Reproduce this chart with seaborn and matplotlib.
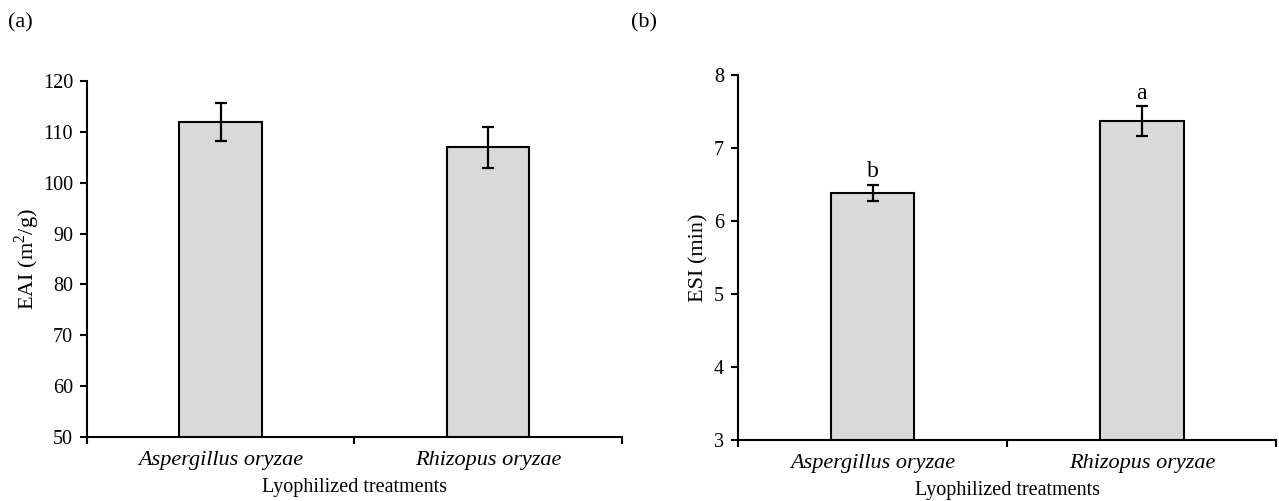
import matplotlib
matplotlib.use("Agg")
import matplotlib.pyplot as plt
import seaborn as sns
import pandas as pd

categories = ["Aspergillus oryzae", "Rhizopus oryzae"]
eai_values = [112.0, 107.0]
eai_errors = [3.8, 4.0]
esi_values = [6.39, 7.37]
esi_errors = [0.11, 0.21]
esi_letters = ["b", "a"]
eai_ticks = [50, 60, 70, 80, 90, 100, 110, 120]
esi_ticks = [3, 4, 5, 6, 7, 8]

sns.set_theme(style="white")
plt.rcParams["font.family"] = ["Liberation Serif", "DejaVu Serif"]
plt.rcParams["mathtext.fontset"] = "custom"
plt.rcParams["mathtext.rm"] = "Liberation Serif"
plt.rcParams["text.color"] = "black"
plt.rcParams["axes.labelcolor"] = "black"
plt.rcParams["xtick.color"] = "black"
plt.rcParams["ytick.color"] = "black"

fig = plt.figure(figsize=(12.79, 5.01), dpi=100)
ax1 = fig.add_axes([0.068, 0.128, 0.418, 0.710])
ax2 = fig.add_axes([0.577, 0.122, 0.421, 0.728])

def panel(ax, values, errors, ticks, ylabel, ylab_x, letters=None):
    df = pd.DataFrame({"cat": categories, "val": values})
    sns.barplot(data=df, x="cat", y="val", ax=ax, color="#d9d9d9",
                edgecolor="black", linewidth=1.5, width=0.31, saturation=1)
    ax.errorbar(range(len(values)), values, yerr=errors, fmt="none",
                ecolor="black", elinewidth=1.6, capsize=4, capthick=1.6)
    ax.set_ylim(ticks[0], ticks[-1])
    ax.set_yticks(ticks)
    ax.set_yticklabels([str(t) for t in ticks], fontsize=14.5)
    ax.set_xlim(-0.5, 1.5)
    ax.set_xticks([-0.5, 0.5, 1.5])
    ax.set_xticklabels([])
    ax.set_xticks([0, 1], minor=True)
    ax.set_xticklabels(categories, minor=True, fontsize=16, style="italic")
    ax.tick_params(axis="x", which="minor", length=0, pad=10)
    ax.tick_params(axis="x", which="major", length=5, width=1.5, direction="out", color="black", bottom=True)
    ax.tick_params(axis="y", length=5, width=1.5, direction="out", color="black", left=True, pad=5)
    for s in ["top", "right"]:
        ax.spines[s].set_visible(False)
    for s in ["left", "bottom"]:
        ax.spines[s].set_color("black")
        ax.spines[s].set_linewidth(1.5)
    ax.set_xlabel("Lyophilized treatments", fontsize=14.5, labelpad=6)
    ax.set_ylabel(ylabel, fontsize=16)
    ax.yaxis.set_label_coords(ylab_x, 0.5)
    if letters:
        span = ticks[-1] - ticks[0]
        for i, (v, e, l) in enumerate(zip(values, errors, letters)):
            ax.text(i, v + e + span * 0.006, l, ha="center", va="bottom", fontsize=17)

panel(ax1, eai_values, eai_errors, eai_ticks, "EAI (m$^2$/g)", -0.084)
panel(ax2, esi_values, esi_errors, esi_ticks, "ESI (min)", -0.054, esi_letters)

fig.text(0.006, 0.955, "(a)", fontsize=16, va="center", ha="left")
fig.text(0.493, 0.955, "(b)", fontsize=16, va="center", ha="left")

fig.savefig("out.png", dpi=100)
